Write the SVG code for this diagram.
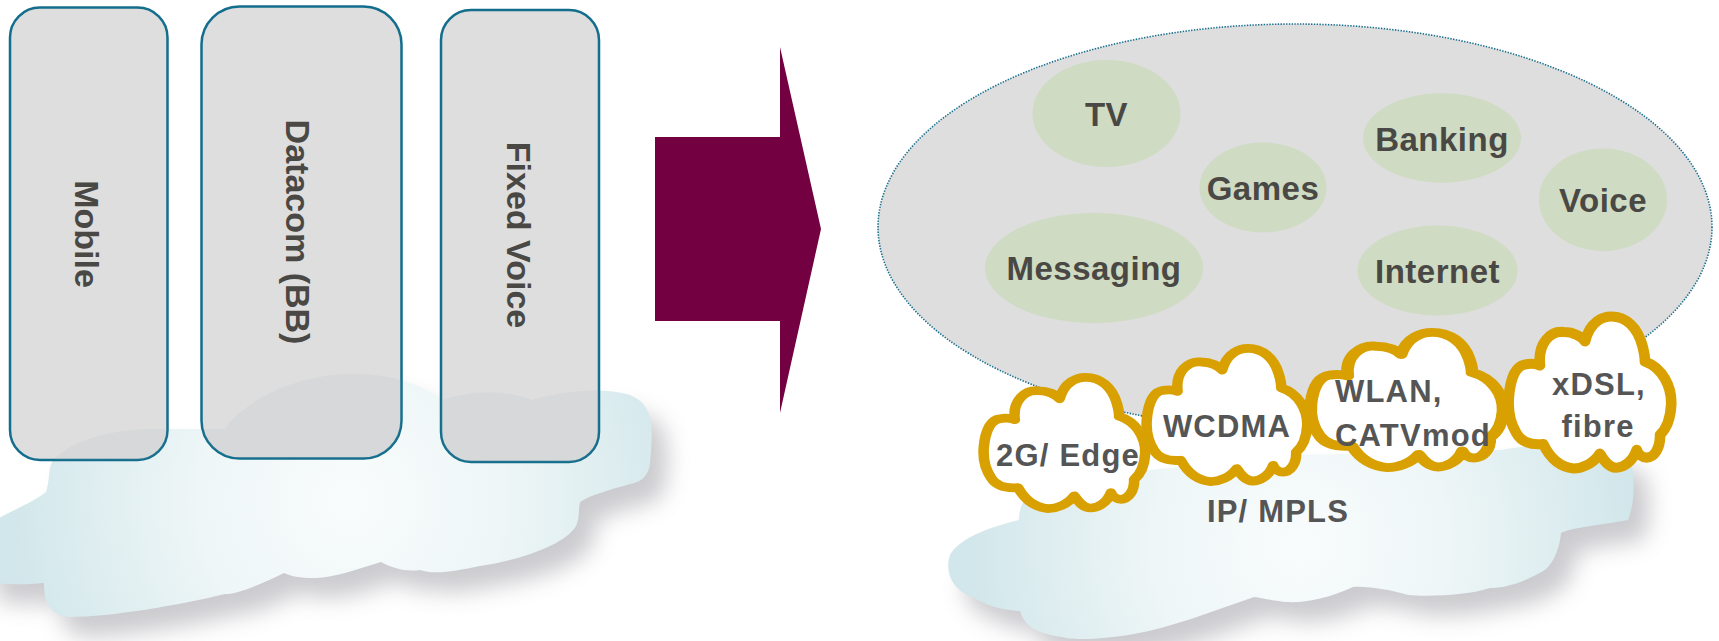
<svg xmlns="http://www.w3.org/2000/svg" width="1719" height="641" viewBox="0 0 1719 641">
<style>
.box{fill:#dedede;stroke:#136d8c;stroke-width:2.5}
.vt{font-family:"Liberation Sans",Arial,sans-serif;font-weight:bold;font-size:34px;fill:#4a4844;text-anchor:middle}
.svc{fill:#cfdbc2}
.st{font-family:"Liberation Sans",Arial,sans-serif;font-weight:bold;font-size:33px;fill:#4a4844;text-anchor:middle;letter-spacing:0.5px}
.cl{fill:#ffffff;stroke:#d8a000;stroke-width:6.5;stroke-linejoin:round}
.ct{font-family:"Liberation Sans",Arial,sans-serif;font-weight:bold;font-size:31px;fill:#555555;letter-spacing:1.2px}
.shadow{fill:#8e8e96;opacity:0.45;filter:url(#blur)}
</style>
<defs>
<filter id="blur" x="-20%" y="-20%" width="140%" height="160%"><feGaussianBlur stdDeviation="11"/></filter>
<radialGradient id="gL" gradientUnits="userSpaceOnUse" cx="350" cy="500" r="340">
<stop offset="0" stop-color="#f9fcfc"/><stop offset="0.45" stop-color="#eef6f7"/><stop offset="1" stop-color="#d2e7eb"/>
</radialGradient>
<radialGradient id="gR" gradientUnits="userSpaceOnUse" cx="1300" cy="545" r="330">
<stop offset="0" stop-color="#f9fcfc"/><stop offset="0.45" stop-color="#eef6f7"/><stop offset="1" stop-color="#d2e7eb"/>
</radialGradient>
<path id="leftCloud" d="M -20 530 C 5 512, 30 505, 46 492 C 50 480, 48 470, 52 462 C 70 440, 110 430, 150 429 L 225 429 C 240 405, 290 375, 350 374 C 390 373, 425 385, 442 400 C 465 392, 500 388, 532 400 C 560 392, 600 386, 630 395 C 655 405, 653 430, 650 463 C 648 478, 640 482, 630 484 C 610 490, 590 495, 580 502 C 578 510, 580 518, 576 526 C 565 545, 520 560, 480 566 C 455 571, 435 575, 420 570 C 405 572, 392 568, 381 562 C 360 568, 335 578, 315 578 C 300 578, 290 576, 284 573 C 260 585, 235 595, 225 594 C 180 605, 110 617, 70 617 C 48 615, 44 600, 44 583 C 20 585, 0 585, -20 580 Z"/>
<path id="rightCloud" d="M 1019 520 C 1019 510, 1022 500, 1030 495 L 1150 470 L 1300 455 L 1500 450 C 1560 440, 1620 440, 1630 458 C 1636 480, 1634 505, 1628 520 C 1600 525, 1570 528, 1561 533 C 1560 545, 1555 562, 1545 570 C 1525 582, 1505 588, 1490 588 C 1470 595, 1430 597, 1408 595 C 1390 590, 1370 586, 1353 587 C 1330 598, 1305 603, 1287 602 C 1275 601, 1262 598, 1254 597 C 1210 612, 1170 628, 1134 634 C 1100 640, 1070 640, 1062 637 C 1040 634, 1025 628, 1020 611 C 1000 610, 985 605, 975 598 C 950 590, 945 570, 950 555 C 958 540, 985 528, 1019 520 Z"/>
<path id="cloudShape" d="M 19.5 32.6 C 18 18, 26 10, 34 11 C 40 11, 45 14, 47 17 C 50 4, 58 1, 63 1 C 72 1, 79 8, 82 20 C 83 24, 83.5 28, 83.5 30 C 94 34, 100 46, 99.5 58 C 99 68, 96 74, 92.7 77.3 C 93 86, 89 92, 84.6 92 C 82 92, 79.5 90, 78.5 87 C 76 95, 70 98.5, 66 98.5 C 61 98.5, 58 93, 56 89.4 C 52 96, 45 99, 40 99 C 31 98, 25 91, 21.5 83.3 C 14 84, 8 82, 5 76 C 1 69, 0 60, 0.5 53 C 1.5 40, 5 33, 10 32 C 14 31, 17 31.5, 19.5 32.6 Z"/>
<clipPath id="boxClip">
<rect x="10" y="7.5" width="157.5" height="452.5" rx="30"/>
<rect x="201.5" y="6.5" width="200" height="452" rx="38"/>
<rect x="441" y="10" width="158" height="452" rx="30"/>
</clipPath>
</defs>

<g id="left-network-cloud">
<use href="#leftCloud" class="shadow" transform="translate(16,20)"/>
<use href="#leftCloud" fill="url(#gL)"/>
</g>

<g id="node-mobile">
<rect class="box" x="10" y="7.5" width="157.5" height="452.5" rx="30"/>
<text class="vt" transform="translate(75,234) rotate(90)">Mobile</text>
</g>
<g id="node-datacom">
<rect class="box" x="201.5" y="6.5" width="200" height="452" rx="38"/>
<text class="vt" transform="translate(286,232) rotate(90)">Datacom (BB)</text>
</g>
<g id="node-fixed-voice">
<rect class="box" x="441" y="10" width="158" height="452" rx="30"/>
<text class="vt" transform="translate(507,235) rotate(90)">Fixed Voice</text>
</g>
<g id="box-cloud-tint" clip-path="url(#boxClip)">
<use href="#leftCloud" fill="#8fa9b0" opacity="0.1"/>
</g>

<g id="connectors">
<polygon points="655,137 780,137 780,47 821,229 780,413 780,321 655,321" fill="#730040"/>
</g>

<g id="right-network-cloud">
<use href="#rightCloud" class="shadow" transform="translate(16,20)"/>
<use href="#rightCloud" fill="url(#gR)"/>
<text class="ct" x="1278" y="521.5" text-anchor="middle">IP/ MPLS</text>
</g>

<g id="services">
<ellipse cx="1295" cy="227" rx="417" ry="203" fill="#dedede" stroke="#1a6f8e" stroke-width="1.6" stroke-dasharray="1.4 1.4"/>
</g>
<g id="node-tv"><ellipse class="svc" cx="1106.5" cy="113.5" rx="74" ry="53.5"/><text class="st" x="1106.5" y="126">TV</text></g>
<g id="node-games"><ellipse class="svc" cx="1263" cy="187.5" rx="63.5" ry="45"/><text class="st" x="1263" y="200">Games</text></g>
<g id="node-banking"><ellipse class="svc" cx="1442" cy="138" rx="79" ry="44.7"/><text class="st" x="1442" y="150.5">Banking</text></g>
<g id="node-voice"><ellipse class="svc" cx="1603" cy="199.7" rx="64" ry="51.3"/><text class="st" x="1603" y="211.7">Voice</text></g>
<g id="node-messaging"><ellipse class="svc" cx="1094" cy="268" rx="109" ry="55"/><text class="st" x="1094" y="280">Messaging</text></g>
<g id="node-internet"><ellipse class="svc" cx="1437.5" cy="270.5" rx="80" ry="45"/><text class="st" x="1437.5" y="282.7">Internet</text></g>

<g id="node-2g-edge">
<use href="#cloudShape" class="cl" transform="translate(983,376) scale(1.63,1.34)" vector-effect="non-scaling-stroke"/>
<text class="ct" x="1068" y="466" text-anchor="middle">2G/ Edge</text>
</g>
<g id="node-wcdma">
<use href="#cloudShape" class="cl" transform="translate(1146,347) scale(1.62,1.36)" vector-effect="non-scaling-stroke"/>
<text class="ct" x="1227" y="437" text-anchor="middle">WCDMA</text>
</g>
<g id="node-wlan">
<use href="#cloudShape" class="cl" transform="translate(1310,331) scale(1.94,1.38)" vector-effect="non-scaling-stroke"/>
<text class="ct" x="1335" y="401.5">WLAN,</text>
<text class="ct" x="1335" y="446">CATVmod</text>
</g>
<g id="node-xdsl">
<use href="#cloudShape" class="cl" transform="translate(1508,315) scale(1.64,1.55)" vector-effect="non-scaling-stroke"/>
<text class="ct" x="1599" y="395" text-anchor="middle">xDSL,</text>
<text class="ct" x="1598" y="437" text-anchor="middle">fibre</text>
</g>
</svg>
